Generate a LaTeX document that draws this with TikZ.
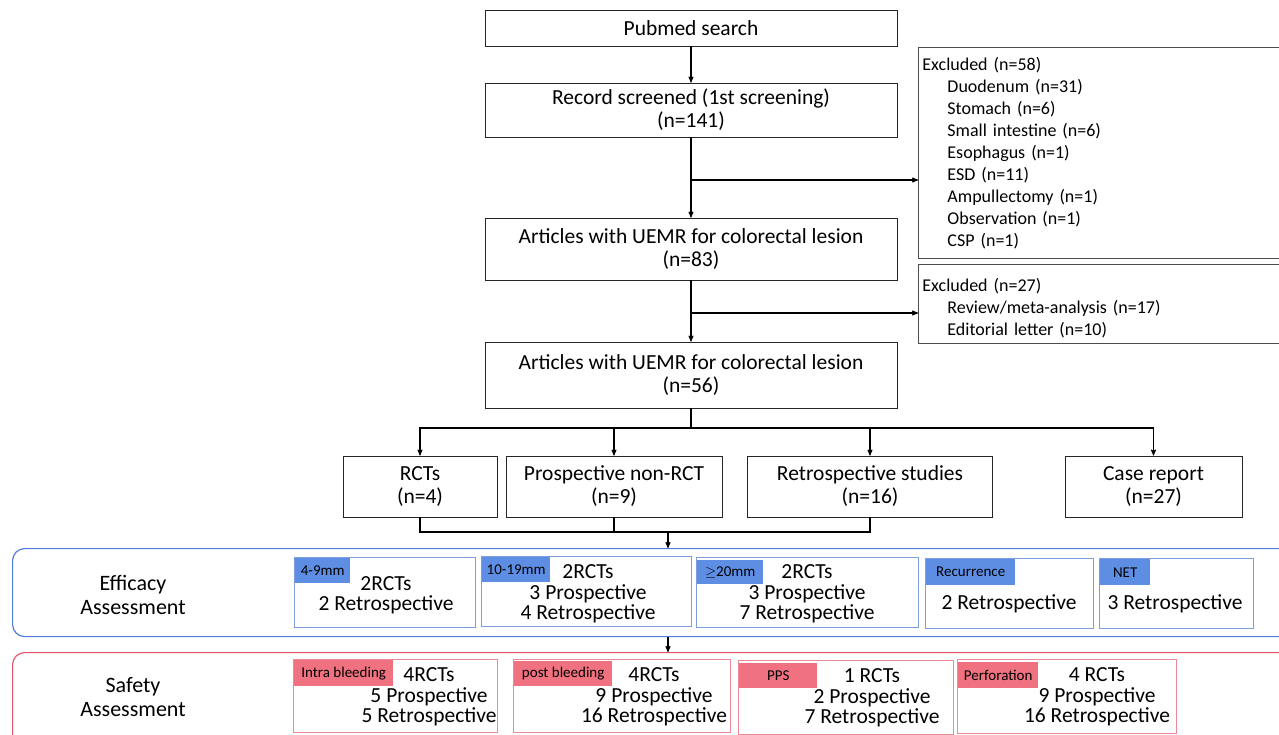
\documentclass[tikz,border=0pt]{standalone}
\usepackage{fontspec}
\setmainfont{Carlito}
\usetikzlibrary{positioning,calc,arrows}
\definecolor{effline}{HTML}{4F7BDD}
\definecolor{effsub}{HTML}{7D9FE2}
\definecolor{efftagc}{HTML}{5E8EE4}
\definecolor{safline}{HTML}{E0566A}
\definecolor{safsub}{HTML}{EC8A98}
\definecolor{saftagc}{HTML}{F0717F}
\begin{document}
\begin{tikzpicture}[x=1pt,y=-1pt,>=stealth',
  box/.style={draw=black!85,line width=0.9pt,align=center,inner sep=0pt,font=\fontsize{21.5}{23}\selectfont},
  exbox/.style={draw=black!70,line width=0.9pt,align=left,inner xsep=4pt,inner ysep=0pt,text width=360pt,anchor=north west,font=\fontsize{18}{22}\selectfont},
  panel/.style={line width=1.2pt,rounded corners=12pt,anchor=north west,minimum width=1300pt},
  panellabel/.style={align=center,font=\fontsize{22}{24.5}\selectfont},
  subbox/.style={line width=0.9pt,anchor=north west,inner sep=0pt},
  tag/.style={anchor=north west,inner sep=0pt,font=\fontsize{15}{16}\selectfont},
  subtext/.style={align=center,font=\fontsize{21.5}{20.5}\selectfont},
  conn/.style={line width=1.1pt,black}]
  \useasboundingbox (0,0) rectangle (1279,734);

  \node[box,minimum width=412pt,minimum height=36pt] (pubmed) at (691,28) {Pubmed search};
  \node[box,minimum width=412pt,minimum height=54pt] (record) at (691,110) {Record screened (1st screening)\\(n=141)};
  \node[box,minimum width=412pt,minimum height=62pt] (art1) at (691,249) {Articles with UEMR for colorectal lesion\\(n=83)};
  \node[box,minimum width=412pt,minimum height=66pt] (art2) at (691,375) {Articles with UEMR for colorectal lesion\\(n=56)};

  \node[exbox,minimum height=211pt] (ex1) at (918,47) {Excluded (n=58)\\
    \hspace*{25pt}Duodenum (n=31)\\
    \hspace*{25pt}Stomach (n=6)\\
    \hspace*{25pt}Small intestine (n=6)\\
    \hspace*{25pt}Esophagus (n=1)\\
    \hspace*{25pt}ESD (n=11)\\
    \hspace*{25pt}Ampullectomy (n=1)\\
    \hspace*{25pt}Observation (n=1)\\
    \hspace*{25pt}CSP (n=1)};
  \node[exbox,minimum height=79pt] (ex2) at (918,264) {\rule{0pt}{22pt}Excluded (n=27)\\
    \hspace*{25pt}Review/meta-analysis (n=17)\\
    \hspace*{25pt}Editorial letter (n=10)};

  \node[box,minimum width=154pt,minimum height=61pt] (rct) at (420,486.5) {RCTs\\(n=4)};
  \node[box,minimum width=216pt,minimum height=61pt] (pro) at (614,486.5) {Prospective non-RCT\\(n=9)};
  \node[box,minimum width=245pt,minimum height=61pt] (retro) at (870,486.5) {Retrospective studies\\(n=16)};
  \node[box,minimum width=177pt,minimum height=61pt] (case) at (1153.5,486.5) {Case report\\(n=27)};

  \coordinate (b1) at (691,180);
  \coordinate (b2) at (691,313);
  \coordinate (split) at (691,428);
  \coordinate (join) at (668,532);

  \draw[conn,->] (pubmed) -- (record);
  \draw[conn,->] (record) -- (art1);
  \draw[conn,->] (b1) -- (ex1.west |- b1);
  \draw[conn,->] (art1) -- (art2);
  \draw[conn,->] (b2) -- (ex2.west |- b2);
  \draw[conn] (art2) -- (split);
  \draw[conn,->] (split) -| (rct.north);
  \draw[conn,->] (split) -| (pro.north);
  \draw[conn,->] (split) -| (retro.north);
  \draw[conn,->] (split) -| (case.north);
  \draw[conn] (rct.south) |- (join) -| (retro.south);
  \draw[conn] (pro.south) -- (pro.south |- join);

  \node[panel,draw=effline,minimum height=88pt] (eff) at (12,548) {};
  \node[panellabel] (efflab) at (133,595) {Efficacy\\Assessment};
  \draw[conn,->] (join) -- (join |- eff.north);

  \node[subbox,draw=effsub,minimum width=181pt,minimum height=70pt] (e1) at (294,557) {};
  \node[subbox,draw=effsub,minimum width=210pt,minimum height=70pt] (e2) at (481,556) {};
  \node[subbox,draw=effsub,minimum width=222pt,minimum height=70pt] (e3) at (696,557) {};
  \node[subbox,draw=effsub,minimum width=168pt,minimum height=70pt] (e4) at (925,558) {};
  \node[subbox,draw=effsub,minimum width=154pt,minimum height=70pt] (e5) at (1099,558) {};
  \node[tag,fill=efftagc,minimum width=55pt,minimum height=25pt] (e1tag) at (295,558) {4-9mm};
  \node[tag,fill=efftagc,minimum width=68pt,minimum height=25pt] (e2tag) at (482,557) {10-19mm};
  \node[tag,fill=efftagc,minimum width=66pt,minimum height=24pt] (e3tag) at (697,560) {$\geq$20mm};
  \node[tag,fill=efftagc,minimum width=89pt,minimum height=26pt] (e4tag) at (926,559) {Recurrence};
  \node[tag,fill=efftagc,minimum width=50pt,minimum height=26pt] (e5tag) at (1100,559) {NET};
  \node[subtext] (e1txt) at (386,595) {2RCTs\\2 Retrospective};
  \node[subtext] (e2txt) at (588,594) {2RCTs\\3 Prospective\\4 Retrospective};
  \node[subtext] (e3txt) at (807,594) {2RCTs\\3 Prospective\\7 Retrospective};
  \node[subtext] (e4txt) at (1009,604) {2 Retrospective};
  \node[subtext] (e5txt) at (1175,604) {3 Retrospective};

  \node[panel,draw=safline,minimum height=95pt] (saf) at (12,652) {};
  \node[panellabel] (saflab) at (133,697) {Safety\\Assessment};
  \draw[conn,->] (join |- eff.south) -- (join |- saf.north);

  \node[subbox,draw=safsub,minimum width=204pt,minimum height=73pt] (s1) at (293,659) {};
  \node[subbox,draw=safsub,minimum width=217pt,minimum height=73pt] (s2) at (513,659) {};
  \node[subbox,draw=safsub,minimum width=215pt,minimum height=74pt] (s3) at (738,660) {};
  \node[subbox,draw=safsub,minimum width=219pt,minimum height=74pt] (s4) at (957,659) {};
  \node[tag,fill=saftagc,minimum width=99pt,minimum height=26pt] (s1tag) at (294,660) {Intra bleeding};
  \node[tag,fill=saftagc,minimum width=98pt,minimum height=25pt] (s2tag) at (514,661) {post bleeding};
  \node[tag,fill=saftagc,minimum width=78pt,minimum height=25pt] (s3tag) at (739,663) {PPS};
  \node[tag,fill=saftagc,minimum width=80pt,minimum height=26pt] (s4tag) at (958,662) {Perforation};
  \node[subtext] (s1txt) at (429,697) {4RCTs\\5 Prospective\\5 Retrospective};
  \node[subtext] (s2txt) at (654,697) {4RCTs\\9 Prospective\\16 Retrospective};
  \node[subtext] (s3txt) at (872,698) {1 RCTs\\2 Prospective\\7 Retrospective};
  \node[subtext] (s4txt) at (1097,697) {4 RCTs\\9 Prospective\\16 Retrospective};
\end{tikzpicture}
\end{document}
